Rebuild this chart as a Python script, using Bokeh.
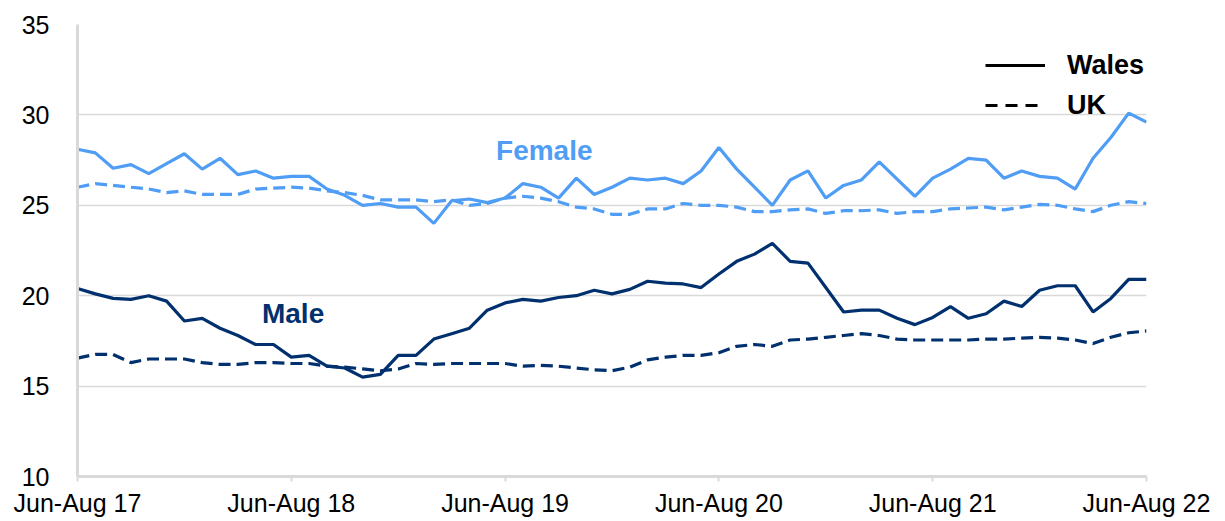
from bokeh.plotting import figure
from bokeh.models import Range1d, FixedTicker, Legend, LegendItem, Label
from bokeh.embed import file_html
from bokeh.resources import INLINE

tick_labels = ["Jun-Aug 17", "Jun-Aug 18", "Jun-Aug 19", "Jun-Aug 20", "Jun-Aug 21", "Jun-Aug 22"]

female_wales = [28.1, 27.9, 27.05, 27.25, 26.75, 27.3, 27.85, 27.0, 27.6, 26.7,
                26.9, 26.5, 26.6, 26.6, 25.9, 25.55, 25.0, 25.1, 24.9, 24.9,
                24.0, 25.25, 25.35, 25.15, 25.4, 26.2, 26.0, 25.4, 26.5, 25.6,
                26.0, 26.5, 26.4, 26.5, 26.2, 26.9, 28.2, 27.0, 26.0, 25.0,
                26.4, 26.9, 25.4, 26.1, 26.4, 27.4, 26.45, 25.5, 26.5, 27.0,
                27.6, 27.5, 26.5, 26.9, 26.6, 26.5, 25.9, 27.6, 28.75, 30.1,
                29.6]
female_uk = [26.0, 26.2, 26.1, 26.0, 25.9, 25.7, 25.8, 25.6, 25.6, 25.6,
             25.9, 25.95, 26.0, 25.95, 25.8, 25.7, 25.55, 25.3, 25.3, 25.3,
             25.2, 25.3, 25.0, 25.1, 25.4, 25.5, 25.4, 25.2, 24.9, 24.8,
             24.5, 24.5, 24.8, 24.8, 25.1, 25.0, 25.0, 24.9, 24.65, 24.65,
             24.75, 24.8, 24.55, 24.7, 24.7, 24.75, 24.55, 24.65, 24.65, 24.8,
             24.85, 24.9, 24.75, 24.9, 25.05, 25.0, 24.8, 24.65, 25.0, 25.2,
             25.1]
male_wales = [20.4, 20.1, 19.85, 19.8, 20.0, 19.7, 18.6, 18.75, 18.2, 17.8,
              17.3, 17.3, 16.6, 16.7, 16.1, 16.0, 15.5, 15.65, 16.7, 16.7,
              17.6, 17.9, 18.2, 19.2, 19.6, 19.8, 19.7, 19.9, 20.0, 20.3,
              20.1, 20.35, 20.8, 20.7, 20.65, 20.45, 21.2, 21.9, 22.3, 22.9,
              21.9, 21.8, 20.45, 19.1, 19.2, 19.2, 18.75, 18.4, 18.8, 19.4,
              18.75, 19.0, 19.7, 19.4, 20.3, 20.55, 20.55, 19.1, 19.85, 20.9,
              20.9]
male_uk = [16.55, 16.75, 16.75, 16.3, 16.5, 16.5, 16.5, 16.3, 16.2, 16.2,
           16.3, 16.3, 16.25, 16.25, 16.1, 16.05, 15.95, 15.85, 15.95, 16.25,
           16.2, 16.25, 16.25, 16.25, 16.25, 16.1, 16.15, 16.1, 16.0, 15.9,
           15.85, 16.05, 16.45, 16.6, 16.7, 16.7, 16.85, 17.2, 17.3, 17.2,
           17.55, 17.6, 17.7, 17.8, 17.9, 17.8, 17.6, 17.55, 17.55, 17.55,
           17.55, 17.6, 17.6, 17.65, 17.7, 17.65, 17.55, 17.35, 17.7, 17.95,
           18.05]

x = list(range(len(female_wales)))
tick_pos = list(range(0, len(x), 12))

FEMALE = "#4F9DF5"
MALE = "#00306E"
FONT = "Liberation Sans"
GRID = "#d9d9d9"

p = figure(width=1225, height=521, output_backend="svg", toolbar_location=None,
           x_range=Range1d(0, 60), y_range=Range1d(10, 35),
           min_border_left=77, min_border_right=79, min_border_top=24, min_border_bottom=45)
p.outline_line_color = None
p.background_fill_color = "white"

p.line(x, female_uk, line_color=FEMALE, line_width=3.2, line_dash="12 6")
p.line(x, male_uk, line_color=MALE, line_width=3.2, line_dash="12 6")
p.line(x, female_wales, line_color=FEMALE, line_width=3.2)
p.line(x, male_wales, line_color=MALE, line_width=3.2)

# legend proxies (no visible data)
nan = float("nan")
r_w = p.line([nan, nan], [nan, nan], line_color="black", line_width=3)
r_u = p.line([nan, nan], [nan, nan], line_color="black", line_width=3, line_dash="12 8")
legend = Legend(items=[LegendItem(label="Wales", renderers=[r_w]),
                       LegendItem(label="UK", renderers=[r_u])],
                location=(908, 354), orientation="vertical")
legend.border_line_color = None
legend.background_fill_alpha = 0
legend.margin = 0
legend.padding = 0
legend.spacing = 6
legend.glyph_width = 60
legend.glyph_height = 34
legend.label_height = 34
legend.label_standoff = 22
legend.label_text_font = FONT
legend.label_text_font_style = "bold"
legend.label_text_font_size = "27px"
legend.label_text_color = "black"
p.add_layout(legend, "center")

p.add_layout(Label(x=26.2, y=28.03, text="Female", text_align="center", text_baseline="middle",
                   text_font=FONT, text_font_style="bold", text_font_size="28px", text_color=FEMALE))
p.add_layout(Label(x=12.1, y=19.0, text="Male", text_align="center", text_baseline="middle",
                   text_font=FONT, text_font_style="bold", text_font_size="28px", text_color=MALE))

p.xgrid.grid_line_color = None
p.ygrid.grid_line_color = GRID
p.ygrid.grid_line_width = 1.5
p.yaxis.ticker = FixedTicker(ticks=[10, 15, 20, 25, 30, 35])
p.xaxis.ticker = FixedTicker(ticks=tick_pos)
p.xaxis.major_label_overrides = {t: s for t, s in zip(tick_pos, tick_labels)}

for ax in (p.xaxis, p.yaxis):
    ax.axis_line_color = GRID
    ax.axis_line_width = 3
    ax.minor_tick_line_color = None
    ax.major_label_text_font = FONT
    ax.major_label_text_font_size = "25px"
    ax.major_label_text_color = "black"

p.yaxis.major_tick_line_color = None
p.yaxis.major_label_standoff = 22
p.xaxis.major_tick_line_color = GRID
p.xaxis.major_tick_line_width = 2
p.xaxis.major_tick_out = 5
p.xaxis.major_tick_in = 0
p.xaxis.major_label_standoff = 7

open("out.html", "w").write(file_html(p, INLINE))
